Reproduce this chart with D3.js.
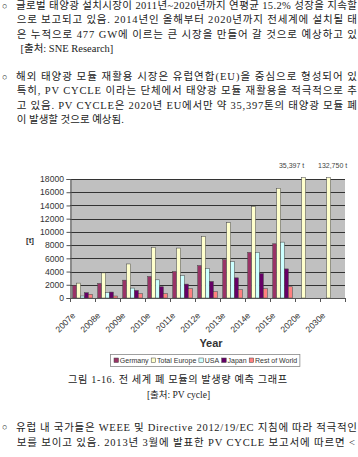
<!DOCTYPE html>
<html><head><meta charset="utf-8">
<script src="https://cdn.jsdelivr.net/npm/d3@7"></script>
<style>html,body{margin:0;padding:0;background:#fff;overflow:hidden} svg{display:block}</style>
</head><body>
<svg id="c" width="358" height="457"></svg>
<script>
// ---------- data ----------
const categories = ["2007e","2008e","2009e","2010e","2011e","2012e","2013e","2014e","2015e","2020e","2030e"];
const seriesNames = ["Germany","Total Europe","USA","Japan","Rest of World"];
const germany     = [1900, 2200, 2700, 3250, 4000, 4900, 5800, 6900, 8200, null, null];
const totalEurope = [2250, 3800, 5150, 7650, 7550, 9300, 11400, 13850, 16600, 35397, 132750];
const usa         = [300, 800, 1500, 2750, 3400, 4450, 5500, 6900, 8450, null, null];
const japan       = [800, 900, 1150, 1700, 2100, 2500, 3050, 3700, 4400, null, null];
const restOfWorld = [550, 300, 650, 650, 1400, 950, 1250, 1400, 1700, null, null];
const yTicks = [0,2000,4000,6000,8000,10000,12000,14000,16000,18000];
const overflowLabels = {"2020e":"35,397 t", "2030e":"132,750 t"};
const yTitle = "[t]";
const xTitle = "Year";

const bodyTop = [
  "글로벌 태양광 설치시장이 2011년~2020년까지 연평균 15.2% 성장을 지속할",
  "으로 보고되고 있음. 2014년인 올해부터 2020년까지 전세계에 설치될 태",
  "은 누적으로 477 GW에 이르는 큰 시장을 만들어 갈 것으로 예상하고 있",
  "[출처: SNE Research]"
];
const bodyMid = [
  "해외 태양광 모듈 재활용 시장은 유럽연합(EU)을 중심으로 형성되어 있",
  "특히, PV CYCLE 이라는 단체에서 태양광 모듈 재활용을 적극적으로 추",
  "고 있음. PV CYCLE은 2020년 EU에서만 약 35,397톤의 태양광 모듈 폐",
  "이 발생할 것으로 예상됨."
];
const captionText = "그림 1-16. 전 세계 폐 모듈의 발생량 예측 그래프";
const sourceText = "[출처: PV cycle]";
const bodyBottom = [
  "유럽 내 국가들은 WEEE 및 Directive 2012/19/EC 지침에 따라 적극적인",
  "보를 보이고 있음. 2013년 3월에 발표한 PV CYCLE 보고서에 따르면 <"
];
const bullet = "○";

// ---------- style ----------
const seriesData = [germany, totalEurope, usa, japan, restOfWorld];
const colors = ["#993366","#FFFFCC","#CCFFFF","#660066","#FF8080"];
const chartFont = "'Liberation Sans', Arial, sans-serif";
const textFont = "'Liberation Serif', 'Noto Sans CJK KR', serif";

const svg = d3.select("#c");

// ---------- body text ----------
function textLine(str, x, y, opts = {}) {
  const t = svg.append("text")
    .attr("x", x).attr("y", y).attr("dy", "0.36em")
    .attr("font-family", textFont)
    .attr("font-size", opts.size || 10.5)
    .attr("fill", "#222")
    .attr("text-anchor", opts.anchor || "start")
    .text(str);
  if (opts.len) t.attr("textLength", opts.len).attr("lengthAdjust", "spacing");
  return t;
}
const lh = 14.2;
const lineEnd = 357;
// paragraph 1
textLine(bullet, 2, 5.5, {size: 9});
bodyTop.forEach((s, i) => {
  const x = i === 0 ? 16 : (i === 3 ? 20.5 : 16.7);
  textLine(s, x, 5.5 + i * lh, i < 3 ? {len: lineEnd - x} : {});
});
// paragraph 2
const p2y = 5.5 + 5 * lh;
textLine(bullet, 2, p2y, {size: 9});
bodyMid.forEach((s, i) => {
  const x = i === 0 ? 16 : 16.7;
  textLine(s, x, p2y + i * lh, i < 3 ? {len: lineEnd - x} : {});
});
// caption + source
textLine(captionText, 68, 379.5, {size: 10.2, len: 219});
textLine(sourceText, 178.5, 394.3, {size: 9.5, anchor: "middle"});
// paragraph 3
textLine(bullet, 2, 427, {size: 9});
const botEnds = [357, 355];
bodyBottom.forEach((s, i) => {
  const x = i === 0 ? 16 : 16.7;
  textLine(s, x, 427 + i * 15.5, {len: botEnds[i] - x});
});

// ---------- chart ----------
const plot = {left: 70, right: 345, top: 179, bottom: 298};
const x = d3.scaleBand().domain(categories).range([plot.left, plot.right]).paddingInner(0).paddingOuter(0);
const xs = d3.scaleBand().domain(seriesNames).range([0, x.bandwidth()]).paddingInner(0).paddingOuter(0.7);
const y = d3.scaleLinear().domain([0, 18000]).range([plot.bottom, plot.top]).clamp(true);

const g = svg.append("g");
// plot background
g.append("rect").attr("x", plot.left).attr("y", plot.top)
  .attr("width", plot.right - plot.left).attr("height", plot.bottom - plot.top)
  .attr("fill", "#c0c0c0");
// gridlines
g.append("g").selectAll("line").data(yTicks.filter(d => d > 0)).join("line")
  .attr("x1", plot.left).attr("x2", plot.right)
  .attr("y1", d => Math.round(y(d)) + 0.5).attr("y2", d => Math.round(y(d)) + 0.5)
  .attr("stroke", "#333").attr("stroke-width", 1);

// bars
const bars = [];
categories.forEach((c, i) => {
  seriesNames.forEach((s, j) => {
    const v = seriesData[j][i];
    if (v != null) bars.push({c, s, j, v});
  });
});
g.append("g").selectAll("rect").data(bars).join("rect")
  .attr("x", d => x(d.c) + xs(d.s))
  .attr("width", xs.bandwidth())
  .attr("y", d => y(d.v) - (d.v > 18000 ? 1.5 : 0))
  .attr("height", d => y(0) - y(d.v) + (d.v > 18000 ? 1.5 : 0))
  .attr("fill", d => colors[d.j])
  .attr("stroke", "#444").attr("stroke-width", 0.5);

// overflow labels
Object.entries(overflowLabels).forEach(([c, lab], k) => {
  const cx = x(c) + xs("Total Europe") + xs.bandwidth() / 2;
  g.append("text").attr("x", cx + (k === 0 ? -12 : 4)).attr("y", 166).attr("dy", "0.35em")
    .attr("text-anchor", "middle").attr("font-family", chartFont).attr("font-size", 7)
    .attr("fill", "#444").text(lab);
});

// y axis
const yAxis = g.append("g").attr("transform", `translate(${plot.left + 0.5},0)`)
  .call(d3.axisLeft(y).tickValues(yTicks).tickSize(4).tickPadding(2.5).tickFormat(d3.format("d")));
yAxis.select(".domain").attr("stroke", "#555");
yAxis.selectAll(".tick line").attr("stroke", "#555");
yAxis.selectAll("text").attr("font-family", chartFont).attr("font-size", 8.6).attr("fill", "#333");

// x axis line and ticks at band boundaries
const xb = g.append("g");
xb.append("line").attr("x1", plot.left).attr("x2", plot.right)
  .attr("y1", plot.bottom + 0.5).attr("y2", plot.bottom + 0.5).attr("stroke", "#555");
xb.selectAll("line.t").data(categories.concat(["__end"])).join("line").attr("class", "t")
  .attr("x1", (d, i) => Math.round(plot.left + i * x.step()) + 0.5)
  .attr("x2", (d, i) => Math.round(plot.left + i * x.step()) + 0.5)
  .attr("y1", plot.bottom).attr("y2", plot.bottom + 4).attr("stroke", "#555");
xb.selectAll("text").data(categories).join("text")
  .attr("transform", d => `translate(${x(d) + x.bandwidth() / 2 - 6.5},316) rotate(-45)`)
  .attr("text-anchor", "end").attr("font-family", chartFont).attr("font-size", 8.6)
  .attr("fill", "#333").text(d => d);

// axis titles
g.append("text").attr("x", 30).attr("y", 240).attr("dy", "0.35em").attr("text-anchor", "middle")
  .attr("font-family", chartFont).attr("font-size", 8).attr("font-weight", "bold").attr("fill", "#333").text(yTitle);
g.append("text").attr("x", 211).attr("y", 342.7).attr("dy", "0.35em").attr("text-anchor", "middle")
  .attr("font-family", chartFont).attr("font-size", 11).attr("font-weight", "bold").attr("fill", "#333").text(xTitle);

// legend
const lg = g.append("g");
const lgBox = lg.append("rect").attr("fill", "#fff").attr("stroke", "#888").attr("stroke-width", 0.8);
let cursor = 114;
const lgY = 360.5;
seriesNames.forEach((s, j) => {
  lg.append("rect").attr("x", cursor).attr("y", lgY - 2.5).attr("width", 4.5).attr("height", 4.5)
    .attr("fill", colors[j]).attr("stroke", "#444").attr("stroke-width", 0.5);
  const t = lg.append("text").attr("x", cursor + 5.8).attr("y", lgY).attr("dy", "0.35em")
    .attr("font-family", chartFont).attr("font-size", 7).attr("fill", "#333").text(s);
  cursor += 5.8 + t.node().getComputedTextLength() + 2.6;
});
lgBox.attr("x", 110.5).attr("y", 354.5).attr("width", cursor - 110.5).attr("height", 12);
</script>
</body></html>
